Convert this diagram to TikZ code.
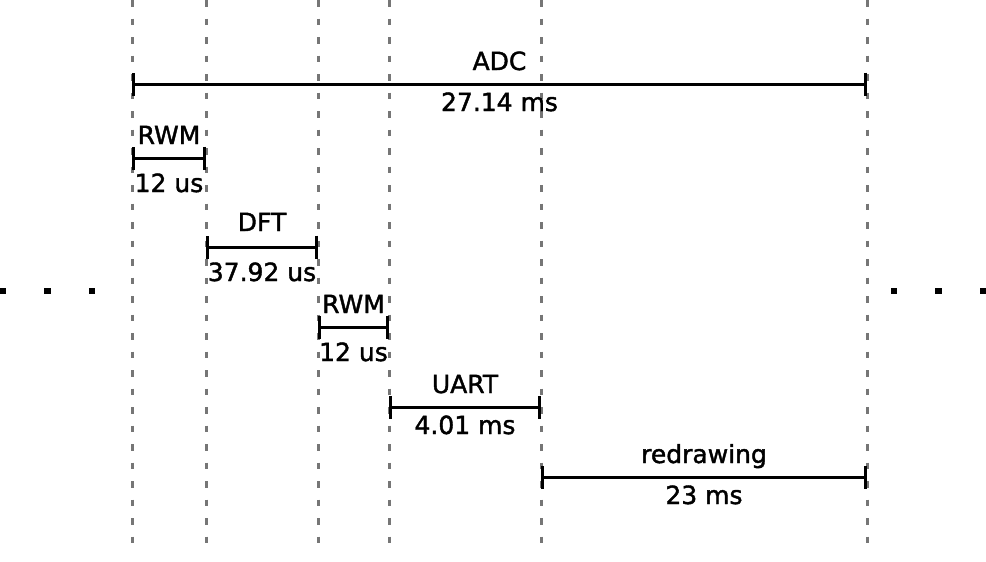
\documentclass[tikz,border=0pt]{standalone}
\usepackage{fontspec}
\setmainfont{DejaVu Sans}[FakeBold=1.6]
\usetikzlibrary{arrows.meta}
\definecolor{markgray}{HTML}{767676}
\tikzstyle{markline} = [markgray, line width=3pt, dash pattern=on 6.5pt off 12pt]
\tikzstyle{span} = [line width=3pt, {Bar[width=23pt]}-{Bar[width=23pt]}]
\tikzstyle{task} = [anchor=base, inner sep=0pt, yshift=14pt]
\tikzstyle{time} = [anchor=base, inner sep=0pt, yshift=-27pt]
\tikzstyle{shorttime} = [anchor=base, inner sep=0pt, yshift=-34pt]
\tikzstyle{dot} = [rectangle, fill=black, minimum size=6.5pt, inner sep=0pt]

\begin{document}
\begin{tikzpicture}[x=1pt, y=-1pt, font=\fontsize{25}{30}\selectfont]
  \useasboundingbox (0,0) rectangle (986,562);
  % time marks
  \foreach \x [count=\i] in {132,206,318,389,541,867} {
    \coordinate (top\i) at (\x,0);
    \coordinate (bot\i) at (\x,552);
    \draw[markline] (top\i) -- (bot\i);
  }
  % spans
  \coordinate (adcL) at (132,84);   \coordinate (adcR) at (867,84);
  \coordinate (rwmaL) at (132,158); \coordinate (rwmaR) at (206,158);
  \coordinate (dftL) at (206,247);  \coordinate (dftR) at (318,247);
  \coordinate (rwmbL) at (318,327); \coordinate (rwmbR) at (389,327);
  \coordinate (uartL) at (389,407); \coordinate (uartR) at (541,407);
  \coordinate (redL) at (541,477);  \coordinate (redR) at (867,477);
  \draw[span] (adcL) -- node[task] (adc) {ADC} node[time] (adct) {27.14 ms} (adcR);
  \draw[span] (rwmaL) -- node[task] (rwma) {RWM} node[shorttime] (rwmat) {12 us} (rwmaR);
  \draw[span] (dftL) -- node[task, yshift=2pt] (dft) {DFT} node[shorttime] (dftt) {37.92 us} (dftR);
  \draw[span] (rwmbL) -- node[task] (rwmb) {RWM} node[shorttime] (rwmbt) {12 us} (rwmbR);
  \draw[span] (uartL) -- node[task] (uart) {UART} node[time] (uartt) {4.01 ms} (uartR);
  \draw[span] (redL) -- node[task] (red) {redrawing} node[time] (redt) {23 ms} (redR);
  % ellipsis
  \foreach \x [count=\i] in {3,47.5,92,894,938.5,983}
    \node[dot] (dot\i) at (\x,291) {};
\end{tikzpicture}
\end{document}
